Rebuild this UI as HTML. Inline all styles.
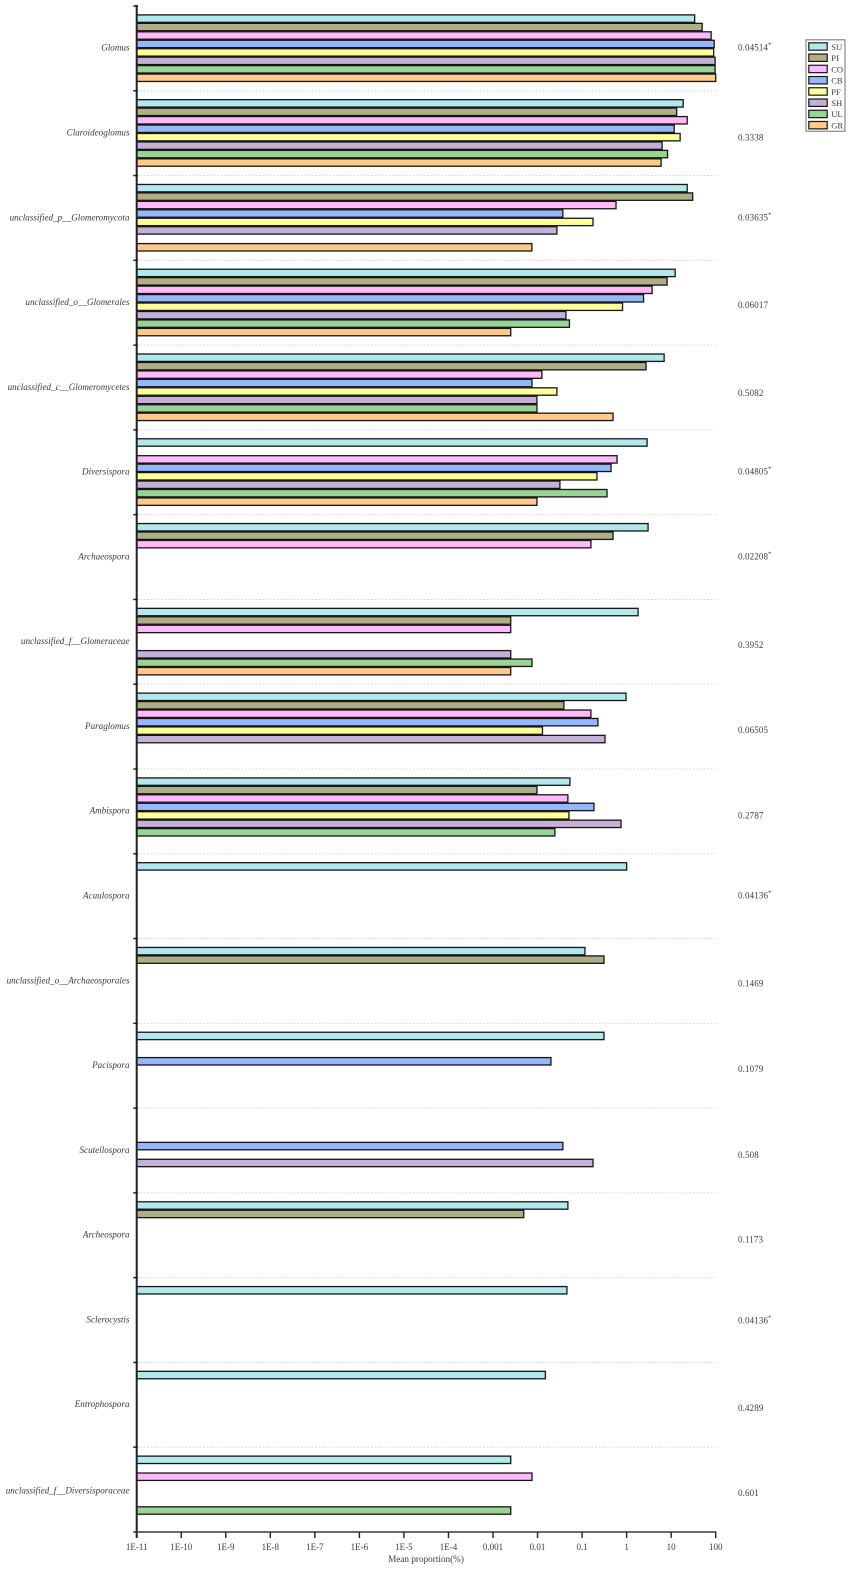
<!DOCTYPE html>
<html>
<head>
<meta charset="utf-8">
<title>Mean proportion chart</title>
<style>
html,body{margin:0;padding:0;background:#fff;width:851px;height:1570px;overflow:hidden}
svg{display:block}
text{font-family:"Liberation Serif",serif;fill:#3a3a3a}
</style>
</head>
<body>
<svg id="chart" width="851" height="1570" viewBox="0 0 851 1570" xmlns="http://www.w3.org/2000/svg"></svg>
<script>
const categories = ["Glomus","Claroideoglomus","unclassified_p__Glomeromycota","unclassified_o__Glomerales","unclassified_c__Glomeromycetes","Diversispora","Archaeospora","unclassified_f__Glomeraceae","Paraglomus","Ambispora","Acaulospora","unclassified_o__Archaeosporales","Pacispora","Scutellospora","Archeospora","Sclerocystis","Entrophospora","unclassified_f__Diversisporaceae"];
const pValues = ["0.04514*","0.3338","0.03635*","0.06017","0.5082","0.04805*","0.02208*","0.3952","0.06505","0.2787","0.04136*","0.1469","0.1079","0.508","0.1173","0.04136*","0.4289","0.601"];
const seriesNames = ["SU","PI","CO","CB","PF","SH","UL","GR"];
const seriesColors = ["#b0e8ec","#b0ae86","#ffb9fb","#95b8fb","#ffff99","#c6b0d8","#98d495","#ffc98c"];
const SU = [33.7,18.6,22.9,12.3,6.95,2.88,3.03,1.81,0.97,0.0533,1,0.116,0.31,null,0.048,0.0457,0.015,0.0025];
const PI = [49.7,13.3,30.4,8.1,2.73,null,0.495,0.0025,0.039,0.0097,null,0.31,null,null,0.0049,null,null,null];
const CO = [79,22.9,0.578,3.73,0.0125,0.61,0.158,0.0025,0.158,0.048,null,null,null,null,null,null,null,0.0075];
const CB = [92.5,11.7,0.037,2.4,0.0075,0.447,null,null,0.227,0.185,null,null,0.02,0.037,null,null,null,null];
const PF = [90,15.9,0.176,0.81,0.0272,0.216,null,null,0.0129,0.0507,null,null,null,null,null,null,null,null];
const SH = [97,6.26,0.0272,0.0434,0.0097,0.0318,null,0.0025,0.327,0.748,null,null,null,0.176,null,null,null,null];
const UL = [97,8.3,null,0.052,0.0097,0.363,null,0.0075,null,0.0245,null,null,null,null,null,null,null,0.0025];
const GR = [100,5.95,0.00746,0.0025,0.495,0.0097,null,0.0025,null,null,null,null,null,null,null,null,null,null];
const tickLabels = ["1E-11","1E-10","1E-9","1E-8","1E-7","1E-6","1E-5","1E-4","0.001","0.01","0.1","1","10","100"];
const tickValues = [1e-11,1e-10,1e-9,1e-8,1e-7,1e-6,1e-5,1e-4,1e-3,1e-2,1e-1,1,10,100];

const allSeries = [SU,PI,CO,CB,PF,SH,UL,GR];
const svg = document.getElementById('chart');
const NS = 'http://www.w3.org/2000/svg';
const xLeft = 136.7, xRight = 715.7, yTop = 6, yBottom = 1532;
function xScale(v){ return xLeft + (Math.log10(v) + 11) / 13 * (xRight - xLeft); }
function bandTop(i){ return yTop + i * (yBottom - yTop) / categories.length; }
function add(tag, attrs, parent){
  const el = document.createElementNS(NS, tag);
  for (const k in attrs) el.setAttribute(k, attrs[k]);
  (parent || svg).appendChild(el);
  return el;
}

// grid lines
categories.forEach(function(c, i){
  if (i === 0) return;
  const g = add('line', {x1:xLeft, x2:xRight, y1:bandTop(i), y2:bandTop(i), stroke:'#d4d4d4', 'stroke-width':1, 'stroke-dasharray':'1.5 2'});
  
  
});

// bars
allSeries.forEach(function(values, s){
  values.forEach(function(v, i){
    if (v === null) return;
    const bar = add('rect', {x:xLeft, y:bandTop(i) + 8.9 + s * 8.45, width:xScale(v) - xLeft, height:7.4, fill:seriesColors[s], stroke:'#151515', 'stroke-width':1.3});
    
    
  });
});

// y axis
const yAxis = add('line', {x1:xLeft, x2:xLeft, y1:yTop - 1, y2:yBottom + 6, stroke:'#222', 'stroke-width':2});


for (let i = 0; i <= categories.length; i++){
  const t = add('line', {x1:133.3, x2:138, y1:bandTop(i), y2:bandTop(i), stroke:'#222', 'stroke-width':1.5});
  
  
}

// x axis
const xAxis = add('line', {x1:xLeft, x2:xRight + 0.5, y1:yBottom, y2:yBottom, stroke:'#555', 'stroke-width':1.8});


tickValues.forEach(function(v, i){
  const t = add('line', {x1:xScale(v), x2:xScale(v), y1:yBottom, y2:yBottom + 6, stroke:'#222', 'stroke-width':1.4});
  
  
  const l = add('text', {x:xScale(v), y:1550, 'text-anchor':'middle', 'font-size':9});
  
  
  l.textContent = tickLabels[i];
});
const xTitle = add('text', {x:426, y:1562, 'text-anchor':'middle', 'font-size':9.2});


xTitle.textContent = 'Mean proportion(%)';

// category labels and p values
const pOffsets = [-3,2,-3,0,3,-3,-3,1,1,2,-3,0,1,2,2,-2,1,1];
categories.forEach(function(c, i){
  const l = add('text', {x:129.5, y:bandTop(i) + 44.7 + (i === 17 ? 1.5 : 0), 'text-anchor':'end', 'font-size':9.1, 'font-style':'italic'});
  
  
  l.textContent = c;
  const star = pValues[i].endsWith('*');
  const p = add('text', {x:738, y:bandTop(i) + 46 + pOffsets[i] + 1.7, 'font-size':9, 'letter-spacing':0.12});
  
  
  p.textContent = star ? pValues[i].slice(0, -1) : pValues[i];
  if (star){
    const sup = add('tspan', {dy:-4, 'font-size':6.5}, p);
    sup.textContent = '*';
  }
});

// legend
const legend = add('g', {});


const legendBox = add('rect', {x:806, y:39.8, width:39, height:91.5, fill:'#fff', stroke:'#888', 'stroke-width':1.2}, legend);


seriesNames.forEach(function(n, s){
  const sw = add('rect', {x:808.8, y:42.8 + s * 11.24, width:18.4, height:7.4, fill:seriesColors[s], stroke:'#151515', 'stroke-width':1.2}, legend);
  
  
  const t = add('text', {x:831.2, y:49.8 + s * 11.24, 'font-size':8.6}, legend);
  
  
  t.textContent = n;
});
</script>
</body>
</html>
